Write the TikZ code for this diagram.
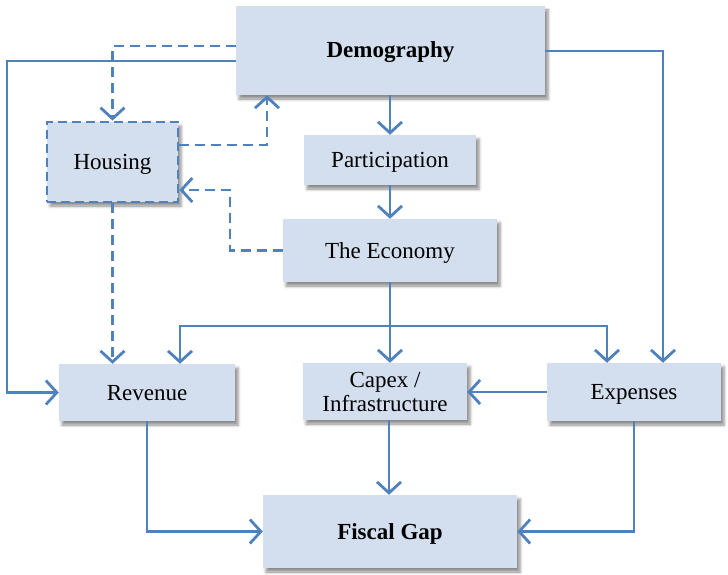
\documentclass[tikz,border=0pt]{standalone}
\usepackage{fontspec}
\setmainfont{Liberation Serif}
\usetikzlibrary{arrows.meta,shadows.blur}
\definecolor{lineblue}{RGB}{79,129,189}
\definecolor{boxfill}{RGB}{211,223,238}
\tikzset{
  box/.style={fill=boxfill, draw=none, inner sep=0pt, align=center,
    font=\fontsize{23}{25}\selectfont, text height=15pt, text depth=0pt,
    blur shadow={shadow xshift=3pt, shadow yshift=-4pt, shadow blur radius=3pt, shadow opacity=45}},
  dashbox/.style={box, draw=lineblue, line width=2.8pt, dash pattern=on 9pt off 5pt},
  arr/.style={draw=lineblue, line width=2.8pt, -{Straight Barb[length=11pt,width=24pt,line width=2.8pt]}},
  darr/.style={arr, dash pattern=on 10pt off 6pt},
}
\begin{document}
\begin{tikzpicture}[x=1pt,y=-1pt]
\useasboundingbox (0,0) rectangle (728,575);
\node[box, minimum width=309pt, minimum height=89pt, font=\fontsize{23}{25}\selectfont\bfseries] (demo) at (390.5,50.5) {Demography};
\node[dashbox, minimum width=131pt, minimum height=80pt] (hous) at (112.5,162) {Housing};
\node[box, minimum width=172pt, minimum height=50pt] (part) at (390,160) {Participation};
\node[box, minimum width=214pt, minimum height=63pt] (econ) at (390,250.5) {The Economy};
\node[box, minimum width=176pt, minimum height=57pt] (rev) at (147,392.5) {Revenue};
\node[box, minimum width=164pt, minimum height=57pt, text height=, text depth=, font=\fontsize{23}{24}\selectfont] (capex) at (385,391.5) {Capex /\\Infrastructure};
\node[box, minimum width=174pt, minimum height=58pt] (exp) at (634,392) {Expenses};
\node[box, minimum width=254pt, minimum height=73pt, font=\fontsize{23}{25}\selectfont\bfseries] (fg) at (390,531.5) {Fiscal Gap};
\coordinate (split) at (390,326);
% solid connectors
\draw[arr] (demo.west |- 0,61) -| (7,392.5) -- (rev.west);
\draw[arr] (demo.east |- 0,51) -| (exp.north -| 663,0);
\draw[arr] (demo.south -| part.north) -- (part.north);
\draw[arr] (part.south) -- (econ.north);
\draw[arr] (econ.south) -- (econ.south |- capex.north);
\draw[arr] (split) -| (rev.north -| 180,0);
\draw[arr] (split) -| (exp.north -| 607,0);
\draw[arr] (exp.west) -- (capex.east |- exp.west);
\draw[arr] (rev.south) |- (fg.west);
\draw[arr] (capex.south -| 389,0) -- (fg.north -| 389,0);
\draw[arr] (exp.south) |- (fg.east);
% dashed connectors
\draw[darr] (demo.west |- 0,46) -| (hous.north);
\draw[darr] (hous.east |- 0,145) -| (demo.south -| 267,0);
\draw[darr] (econ.west) -| (230,190) -- (hous.east |- 0,190);
\draw[darr] (hous.south) -- (hous.south |- rev.north);
\end{tikzpicture}
\end{document}
